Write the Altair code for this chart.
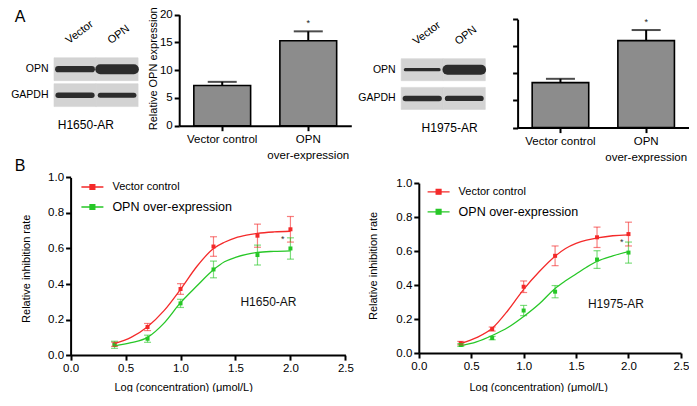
import altair as alt
import pandas as pd

W, H = 681, 384
FONT = "Liberation Sans"
RED = "#f42a2a"
GREEN = "#27c727"
BAR_FILL = "#8c8c8c"
MEMBRANE = "#d3d3d3"
BAND = "#1d1d1d"
SYMBOL_PATH = "M-1,0L1,0M-0.22,-0.22L0.22,-0.22L0.22,0.22L-0.22,0.22Z"

# ---------------- Panel A: western blots (relative band intensity) ----------------
lanes = ["Vector", "OPN"]
blot_rows = ["OPN", "GAPDH"]
h1650_opn_band = [0.62, 1.0]
h1650_gapdh_band = [0.55, 0.5]
h1975_opn_band = [0.32, 1.0]
h1975_gapdh_band = [0.55, 0.52]

# ---------------- Panel A: relative OPN expression ----------------
bar_groups = ["Vector control", "OPN|over-expression"]
bar_sig = ["", "*"]
h1650_expr = [7.25, 15.3]
h1650_expr_err = [0.65, 1.7]
h1975_expr = [8.3, 16.05]
h1975_expr_err = [0.7, 1.95]
expr_ticks = [0, 5, 10, 15, 20]

# ---------------- Panel B: inhibition curves ----------------
series = ["Vector control", "OPN over-expression"]
log_conc = [0.4, 0.7, 1.0, 1.3, 1.7, 2.0]
h1650_vec = [0.061, 0.158, 0.372, 0.611, 0.672, 0.708]
h1650_vec_sd = [0.012, 0.02, 0.03, 0.055, 0.065, 0.072]
h1650_opn = [0.058, 0.092, 0.291, 0.482, 0.563, 0.600]
h1650_opn_sd = [0.02, 0.02, 0.023, 0.047, 0.056, 0.06]
h1975_vec = [0.058, 0.141, 0.39, 0.572, 0.681, 0.70]
h1975_vec_sd = [0.01, 0.012, 0.034, 0.058, 0.06, 0.07]
h1975_opn = [0.047, 0.088, 0.25, 0.361, 0.55, 0.591]
h1975_opn_sd = [0.008, 0.01, 0.03, 0.036, 0.052, 0.062]

# fitted curves
curve_x = [0.4, 0.55, 0.7, 0.85, 1.0, 1.15, 1.3, 1.4, 1.5, 1.6, 1.7, 1.85, 2.0]
h1650_vec_fit = [0.065, 0.10, 0.16, 0.25, 0.37, 0.50, 0.60, 0.635, 0.66, 0.675, 0.685, 0.693, 0.697]
h1650_opn_fit = [0.052, 0.07, 0.10, 0.18, 0.295, 0.39, 0.48, 0.525, 0.55, 0.567, 0.578, 0.584, 0.587]
h1975_vec_fit = [0.055, 0.09, 0.145, 0.25, 0.375, 0.48, 0.57, 0.615, 0.645, 0.665, 0.677, 0.69, 0.695]
h1975_opn_fit = [0.042, 0.065, 0.103, 0.15, 0.215, 0.29, 0.38, 0.425, 0.465, 0.505, 0.54, 0.572, 0.597]

conc_ticks = [0.0, 0.5, 1.0, 1.5, 2.0, 2.5]
rate_ticks = [0.0, 0.2, 0.4, 0.6, 0.8, 1.0]
h1650_label_pos = [1.8, 0.30]
h1975_label_pos = [1.88, 0.29]
h1650_star_pos = [1.93, 0.656]
h1975_star_pos = [1.935, 0.655]

SERIES_COLOR_EXPR = f"datum.value === '{series[0]}' ? '{RED}' : '{GREEN}'"


def blot_panel(opn_band, gapdh_band, xr, yr, gap, cell, cell_x, cell_y):
    df = pd.DataFrame({
        "lane": lanes + lanes,
        "row": [blot_rows[0]] * 2 + [blot_rows[1]] * 2,
        "intensity": list(opn_band) + list(gapdh_band),
    })
    xs = alt.Scale(domain=lanes, range=xr, paddingInner=0, paddingOuter=0)
    ys = alt.Scale(domain=blot_rows, range=yr, paddingInner=gap, paddingOuter=0)
    x_axis = alt.Axis(orient="top", offset=-yr[0], domain=False, ticks=False, tickSize=0,
                      labelAngle=323, labelAlign="left", labelBaseline="alphabetic",
                      labelPadding=14, labelOffset=-6, labelFontSize=11,
                      title=cell, titleX=cell_x, titleY=cell_y - yr[0], titleFontSize=12,
                      titleFontWeight="normal", titleAlign="center", titleBaseline="alphabetic")
    y_axis = alt.Axis(orient="left", offset=-xr[0], domain=False, ticks=False, tickSize=0,
                      labelPadding=6, labelFontSize=10.5, title=None)
    membrane = alt.Chart(df).mark_rect(fill=MEMBRANE, stroke=MEMBRANE, strokeWidth=0.6).encode(
        x=alt.X("lane:N", scale=xs, axis=x_axis),
        y=alt.Y("row:N", scale=ys, axis=y_axis),
    )
    bands = alt.Chart(df).mark_rule(color=BAND, strokeCap="round", opacity=0.92).encode(
        x=alt.X("lane:N", scale=xs, axis=None, bandPosition=0.1),
        x2=alt.X2("lane", bandPosition=0.9),
        y=alt.Y("row:N", scale=ys, axis=None),
        strokeWidth=alt.StrokeWidth("intensity:Q", scale=alt.Scale(domain=[0, 1], range=[0, 10]), legend=None),
    )
    return [membrane, bands]


def bar_panel(vals, errs, xr, yr, show_labels):
    df = pd.DataFrame({"group": bar_groups, "value": vals, "err": errs, "sig": bar_sig})
    xs = alt.Scale(domain=bar_groups, range=xr, paddingInner=0.34, paddingOuter=0.17)
    ys = alt.Scale(domain=[0, 20], range=yr, nice=False, zero=True)
    x_axis = alt.Axis(orient="bottom", offset=yr[0] - H, domainWidth=2, tickWidth=2, tickSize=5,
                      labelPadding=3, labelFontSize=11.5, labelExpr="split(datum.label, '|')",
                      labelLineHeight=16, labelAngle=0, title=None)
    if show_labels:
        y_axis = alt.Axis(orient="left", offset=-xr[0], values=expr_ticks, domainWidth=2, tickWidth=2,
                          tickSize=5, labelFontSize=11.5, labelPadding=2,
                          title="Relative OPN expression", titleX=-26.0, titleY=60.3, titleAngle=270,
                          titleAlign="center", titleBaseline="middle", titleFontSize=11,
                          titleFontWeight="normal")
    else:
        y_axis = alt.Axis(orient="left", offset=-xr[0], values=expr_ticks, domainWidth=2, tickWidth=2,
                          tickSize=5, labels=False, title=None)
    base = alt.Chart(df).transform_calculate(upper="datum.value + datum.err")
    bars = base.mark_bar(fill=BAR_FILL, stroke="black", strokeWidth=1.6).encode(
        x=alt.X("group:N", scale=xs, axis=x_axis),
        y=alt.Y("value:Q", scale=ys, axis=y_axis),
    )
    err = base.mark_rule(color="black", strokeWidth=2).encode(
        x=alt.X("group:N", scale=xs, axis=None),
        y=alt.Y("value:Q", scale=ys, axis=None),
        y2="upper:Q",
    )
    cap = base.mark_tick(color="black", thickness=2, size=29, orient="horizontal").encode(
        x=alt.X("group:N", scale=xs, axis=None),
        y=alt.Y("upper:Q", scale=ys, axis=None),
    )
    star = base.mark_text(dy=-8, fontSize=9, color="#222").encode(
        x=alt.X("group:N", scale=xs, axis=None),
        y=alt.Y("upper:Q", scale=ys, axis=None),
        text="sig:N",
    )
    return [bars, err, cap, star]


def dose_panel(vec, vec_sd, opn, opn_sd, vec_fit, opn_fit, xr, yr, cell, cell_pos, star_pos,
               leg_xy, ytitle_x, ytitle_y, xtitle_x, xtitle_y):
    n, m = len(log_conc), len(curve_x)
    pts = pd.DataFrame({"series": [series[0]] * n + [series[1]] * n,
                        "conc": log_conc + log_conc, "rate": vec + opn, "sd": vec_sd + opn_sd})
    fit = pd.DataFrame({"series": [series[0]] * m + [series[1]] * m,
                        "conc": curve_x + curve_x, "rate": vec_fit + opn_fit})
    cell_df = pd.DataFrame({"conc": [cell_pos[0]], "rate": [cell_pos[1]], "note": [cell]})
    star_df = pd.DataFrame({"conc": [star_pos[0]], "rate": [star_pos[1]], "note": ["*"]})
    xs = alt.Scale(domain=[0, 2.5], range=xr, nice=False, zero=False)
    ys = alt.Scale(domain=[0, 1], range=yr, nice=False, zero=False)
    cscale = alt.Scale(domain=series, range=[RED, GREEN])
    legend = alt.Legend(
        orient="none", legendX=leg_xy[0], legendY=leg_xy[1], title=None, direction="vertical",
        symbolType=SYMBOL_PATH, symbolSize=484, symbolStrokeWidth=1.3,
        symbolStrokeColor={"expr": SERIES_COLOR_EXPR},
        symbolFillColor={"expr": SERIES_COLOR_EXPR},
        labelFontSize={"expr": f"datum.value === '{series[1]}' ? 12.5 : 11"},
        labelOffset=8, rowPadding=2, padding=0, labelColor="black", labelFont=FONT,
    )
    color_leg = alt.Color("series:N", scale=cscale, legend=legend)
    color = alt.Color("series:N", scale=cscale, legend=None)
    x_axis = alt.Axis(orient="bottom", offset=yr[0] - H, values=conc_ticks, format=".1f",
                      domainWidth=2, tickWidth=2, tickSize=5, labelFontSize=11.5, labelPadding=2,
                      labelFlush=False, labelOverlap=False,
                      title="Log (concentration) (μmol/L)", titleX=xtitle_x, titleY=xtitle_y,
                      titleAlign="center", titleBaseline="middle", titleFontSize=11,
                      titleFontWeight="normal")
    y_axis = alt.Axis(orient="left", offset=-xr[0], values=rate_ticks, format=".1f",
                      domainWidth=2, tickWidth=2, tickSize=5, labelFontSize=11.5, labelPadding=2,
                      labelFlush=False, labelOverlap=False,
                      title="Relative inhibition rate", titleX=ytitle_x, titleY=ytitle_y, titleAngle=270,
                      titleAlign="center", titleBaseline="middle", titleFontSize=11,
                      titleFontWeight="normal")
    points = alt.Chart(pts).mark_point(shape="square", filled=True, size=16, opacity=1).encode(
        x=alt.X("conc:Q", scale=xs, axis=x_axis),
        y=alt.Y("rate:Q", scale=ys, axis=y_axis),
        color=color_leg,
    )
    line = alt.Chart(fit).mark_line(strokeWidth=1.3, interpolate="monotone").encode(
        x=alt.X("conc:Q", scale=xs, axis=None),
        y=alt.Y("rate:Q", scale=ys, axis=None),
        color=color,
    )
    eb = alt.Chart(pts).transform_calculate(lo="datum.rate - datum.sd", hi="datum.rate + datum.sd")
    err = eb.mark_rule(strokeWidth=1.2, opacity=0.6).encode(
        x=alt.X("conc:Q", scale=xs, axis=None),
        y=alt.Y("lo:Q", scale=ys, axis=None),
        y2="hi:Q",
        color=color,
    )
    cap_lo = eb.mark_tick(size=7, thickness=1.2, orient="horizontal", opacity=0.6).encode(
        x=alt.X("conc:Q", scale=xs, axis=None),
        y=alt.Y("lo:Q", scale=ys, axis=None),
        color=color,
    )
    cap_hi = eb.mark_tick(size=7, thickness=1.2, orient="horizontal", opacity=0.6).encode(
        x=alt.X("conc:Q", scale=xs, axis=None),
        y=alt.Y("hi:Q", scale=ys, axis=None),
        color=color,
    )
    cell_text = alt.Chart(cell_df).mark_text(fontSize=12, color="#111").encode(
        x=alt.X("conc:Q", scale=xs, axis=None),
        y=alt.Y("rate:Q", scale=ys, axis=None),
        text="note:N",
    )
    star_text = alt.Chart(star_df).mark_text(fontSize=9, color="#333").encode(
        x=alt.X("conc:Q", scale=xs, axis=None),
        y=alt.Y("rate:Q", scale=ys, axis=None),
        text="note:N",
    )
    return [points, line, err, cap_lo, cap_hi, cell_text, star_text]


blot1 = blot_panel(h1650_opn_band, h1650_gapdh_band, [46.0, 130.1], [49.8, 98.6], 0.12,
                   "H1650-AR", 77.3, 120.0)
blot2 = blot_panel(h1975_opn_band, h1975_gapdh_band, [393.2, 477.3], [50.7, 101.4], 0.233,
                   "H1975-AR", 441.1, 123.7)
bar1 = bar_panel(h1650_expr, h1650_expr_err, [171.2, 343.3], [117.7, 6.7], True)
bar2 = bar_panel(h1975_expr, h1975_expr_err, [509.6, 681.0], [119.6, 11.2], False)
dose1 = dose_panel(h1650_vec, h1650_vec_sd, h1650_opn, h1650_opn_sd, h1650_vec_fit, h1650_opn_fit,
                   [62.6, 337.4], [347.1, 169.4], "H1650-AR", h1650_label_pos, h1650_star_pos,
                   [72.4, 167.0], -44.0, 260.3, 175.1, 32.8)
dose2 = dose_panel(h1975_vec, h1975_vec_sd, h1975_opn, h1975_opn_sd, h1975_vec_fit, h1975_opn_fit,
                   [410.8, 672.9], [345.0, 175.1], "H1975-AR", h1975_label_pos, h1975_star_pos,
                   [418.6, 171.8], -45.0, 257.4, 530.1, 34.9)

letter_a = alt.Chart(pd.DataFrame({"t": ["A"]})).mark_text(
    fontSize=16, align="left", baseline="alphabetic", color="black"
).encode(x=alt.value(6.8), y=alt.value(14.4), text="t:N")
letter_b = alt.Chart(pd.DataFrame({"t": ["B"]})).mark_text(
    fontSize=16, align="left", baseline="alphabetic", color="black"
).encode(x=alt.value(6.8), y=alt.value(162.7), text="t:N")

layers = blot1 + bar1 + blot2 + bar2 + dose1 + dose2 + [letter_a, letter_b]

chart = (
    alt.layer(*layers)
    .resolve_scale(x="independent", y="independent", color="independent")
    .resolve_axis(x="independent", y="independent")
    .resolve_legend(color="independent")
    .properties(width=W, height=H, padding=0, autosize=alt.AutoSizeParams(type="none"))
    .configure_view(stroke=None)
    .configure_axis(grid=False, labelFont=FONT, titleFont=FONT, labelColor="black",
                    titleColor="black", domainColor="black", tickColor="black")
    .configure_legend(labelFont=FONT)
    .configure_text(font=FONT)
)

chart.save("out.html", embed_options={"renderer": "svg", "actions": False})
